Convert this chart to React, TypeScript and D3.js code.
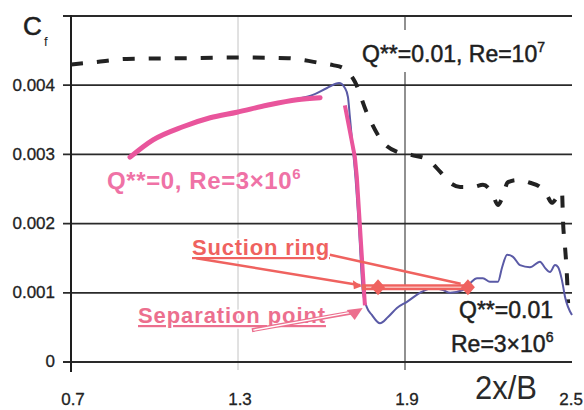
import React from 'react';
import * as d3 from 'd3';

// axis ticks
const xTicks = [0.7, 1.3, 1.9, 2.5];
const yTicks = [0, 0.001, 0.002, 0.003, 0.004];
const yGrid = [0, 0.001, 0.002, 0.003, 0.004, 0.005];

// Q**=0.01, Re=10^7 (dashed)
const dashedX = [0.7, 0.78, 0.9, 1.1, 1.3, 1.48, 1.54, 1.595, 1.641, 1.677, 1.72, 1.763, 1.82, 1.875, 1.925, 1.983,
  2.026, 2.062, 2.098, 2.144, 2.18, 2.213, 2.234, 2.249, 2.27, 2.302, 2.349, 2.385, 2.41, 2.428, 2.446, 2.464,
  2.468, 2.475, 2.482, 2.486];
const dashedY = [0.0043, 0.00433, 0.00438, 0.00439, 0.0044, 0.00439, 0.00436, 0.00432, 0.00429, 0.00425, 0.00405,
  0.0036, 0.00318, 0.00303, 0.00299, 0.00292, 0.00275, 0.00259, 0.00253, 0.00253, 0.00256, 0.00244, 0.00227,
  0.00237, 0.0026, 0.00263, 0.00259, 0.00253, 0.00241, 0.0023, 0.00238, 0.00246, 0.00201, 0.00166, 0.00123,
  0.00085];

// Q**=0, Re=3x10^6 (pink), rising part and drop
const pinkX = [0.912, 0.995, 1.102, 1.2, 1.296, 1.404, 1.512, 1.595];
const pinkY = [0.00296, 0.00321, 0.0034, 0.00353, 0.00361, 0.00371, 0.00379, 0.00382];
const pinkDropX = [1.684, 1.72, 1.727, 1.756];
const pinkDropY = [0.00371, 0.00296, 0.00267, 0.00082];

// Q**=0.01, Re=3x10^6 (blue)
const blueX = [0.912, 0.995, 1.102, 1.2, 1.296, 1.404, 1.512, 1.569, 1.62, 1.663, 1.684, 1.695, 1.702, 1.713, 1.72,
  1.735, 1.749, 1.763, 1.781, 1.81, 1.839, 1.871, 1.907, 1.954, 2.001, 2.037, 2.062, 2.108, 2.134, 2.159, 2.18,
  2.205, 2.234, 2.249, 2.267, 2.288, 2.313, 2.349, 2.385, 2.403, 2.421, 2.439, 2.45, 2.464, 2.475, 2.5];
const blueY = [0.00296, 0.00321, 0.0034, 0.00353, 0.00361, 0.00371, 0.0038, 0.00386, 0.00396, 0.00403, 0.00396,
  0.00383, 0.00354, 0.00306, 0.00277, 0.00191, 0.001, 0.00079, 0.00068, 0.00056, 0.00065, 0.00078, 0.00087,
  0.001, 0.00107, 0.00104, 0.001, 0.00104, 0.00114, 0.00121, 0.00121, 0.00116, 0.00116, 0.00137, 0.00155,
  0.00152, 0.0014, 0.00137, 0.00145, 0.00136, 0.0013, 0.0014, 0.00137, 0.00118, 0.00094, 0.00068];

// suction ring annotation (data units)
const ringX = [1.803, 2.126];
const ringY = 0.00108;

const W = 584;
const H = 410;

const App = () => {
  const x = d3.scaleLinear().domain([0.7, 2.5]).range([71, 572]);
  const y = d3.scaleLinear().domain([0, 0.005]).range([362, 16]);

  const line = d3.line<[number, number]>()
    .x(d => x(d[0]))
    .y(d => y(d[1]))
    .curve(d3.curveMonotoneX);
  const straight = d3.line<[number, number]>()
    .x(d => x(d[0]))
    .y(d => y(d[1]));

  const zip = (a: number[], b: number[]) => a.map((v, i) => [v, b[i]] as [number, number]);

  const font = 'Liberation Sans, Arial, sans-serif';
  const coral = '#ef625f';
  const rose = '#ec6f8e';

  return (
    <svg width={W} height={H} style={{ position: 'absolute', left: 0, top: 0, background: '#fff' }}
      fontFamily={font}>
      <rect width={W} height={H} fill="#fff" />

      {/* vertical grid */}
      <line x1={x(1.3)} x2={x(1.3)} y1={15} y2={370} stroke="#c4c4c4" strokeWidth={1} />
      <line x1={x(1.9)} x2={x(1.9)} y1={15} y2={370} stroke="#555" strokeWidth={1.3} />

      {/* horizontal grid */}
      {yGrid.map(v => (
        <line key={v} x1={63} x2={572} y1={y(v)} y2={y(v)} stroke="#2a2a2a" strokeWidth={1.8} />
      ))}
      <line x1={x(0.7)} x2={x(0.7)} y1={15} y2={372} stroke="#1e1e1e" strokeWidth={2} />

      {/* y labels */}
      {yTicks.map(v => (
        <text key={v} x={55} y={y(v) + 1} textAnchor="end" dominantBaseline="middle" fontSize={17} fill="#222"
          stroke="#222" strokeWidth={0.3}>
          {v === 0 ? '0' : d3.format('.3f')(v)}
        </text>
      ))}
      {/* x labels */}
      {xTicks.map(v => (
        <text key={v} x={v === 2.5 ? 583 : x(v) + 2} y={405} textAnchor={v === 2.5 ? 'end' : 'middle'}
          fontSize={17} fill="#222" stroke="#222" strokeWidth={0.3}>
          {d3.format('.1f')(v)}
        </text>
      ))}

      <text x={23} y={35} fontSize={26} fill="#1e1e1e" stroke="#1e1e1e" strokeWidth={0.6}>C</text>
      <text x={44} y={46} fontSize={13} fill="#1e1e1e">f</text>
      <text x={475} y={399} fontSize={33} fill="#2a2a2a" textLength={62} lengthAdjust="spacingAndGlyphs">2x/B</text>

      {/* series */}
      <path d={line(zip(dashedX, dashedY)) || ''} fill="none" stroke="#222" strokeWidth={4}
        strokeDasharray="12 14" />
      <path d={line(zip(blueX, blueY)) || ''} fill="none" stroke="#5a5aa6" strokeWidth={2} />
      <path d={line(zip(pinkX, pinkY)) || ''} fill="none" stroke="#e9559c" strokeWidth={5} strokeLinecap="round" />
      <path d={straight(zip(pinkDropX, pinkDropY)) || ''} fill="none" stroke="#e9559c" strokeWidth={4} />

      {/* top label */}
      <rect x={358} y={30} width={198} height={42} fill="#fff" />
      <text x={362} y={62} fontSize={23} fill="#1e1e1e" stroke="#1e1e1e" strokeWidth={0.5}>
        Q**=0.01, Re=10<tspan dy={-10} fontSize={14}>7</tspan>
      </text>

      {/* pink label */}
      <text x={107} y={189} fontSize={24} fontWeight="bold" fill="#ef72a6" letterSpacing={0.6}>
        Q**=0, Re=3×10<tspan dy={-10} fontSize={15}>6</tspan>
      </text>

      {/* bottom right label */}
      <text x={553} y={318} textAnchor="end" fontSize={23} fill="#1e1e1e" stroke="#1e1e1e" strokeWidth={0.5}>
        Q**=0.01
      </text>
      <text x={451} y={352} fontSize={23} fill="#1e1e1e" stroke="#1e1e1e" strokeWidth={0.5}>
        Re=3×10<tspan dy={-10} fontSize={14}>6</tspan>
      </text>

      {/* suction ring annotation */}
      <text x={192} y={255} fontSize={22} fontWeight="bold" fill={coral} letterSpacing={0.8}
        stroke="#fff" strokeWidth={3} paintOrder="stroke" style={{ textDecoration: 'underline' }}>
        Suction ring
      </text>
      <path d={straight([[1.15, 0.0015], [1.74, 0.00111]]) || ''} stroke={coral} strokeWidth={2.5} fill="none" />
      <path d={straight([[1.63, 0.00155], [2.1, 0.00113]]) || ''} stroke={coral} strokeWidth={2.5} fill="none" />
      <path d={straight([[1.745, ringY], [ringX[1], ringY]]) || ''} stroke={coral} strokeWidth={6} fill="none" />
      <path d={straight([[1.76, ringY], [ringX[1] - 0.01, ringY]]) || ''} stroke="#f9b8b4" strokeWidth={1.5}
        fill="none" />
      {ringX.map(v => (
        <path key={v} d={`M${x(v)},${y(ringY) - 8}L${x(v) + 7},${y(ringY)}L${x(v)},${y(ringY) + 8}L${x(v) - 7},${y(ringY)}Z`}
          fill={coral} />
      ))}
      <path d={`M${x(1.745)},${y(ringY) - 1}l-9,-6l1,9Z`} fill={coral} />

      {/* separation point annotation */}
      <text x={138} y={323} fontSize={22} fontWeight="bold" fill={rose} letterSpacing={0.9}
        stroke="#fff" strokeWidth={3} paintOrder="stroke" style={{ textDecoration: 'underline' }}>
        Separation point
      </text>
      <path d={straight([[1.35, 0.00046], [1.715, 0.00072]]) || ''} stroke={rose} strokeWidth={4} fill="none" />
      <path d={straight([[1.355, 0.00046], [1.71, 0.00072]]) || ''} stroke="#fff" strokeWidth={1.4} fill="none" />
      <path d={`M${x(1.748)},${y(0.00078)}l-16,2l8,10Z`} fill={rose} />
    </svg>
  );
};

export default App;
